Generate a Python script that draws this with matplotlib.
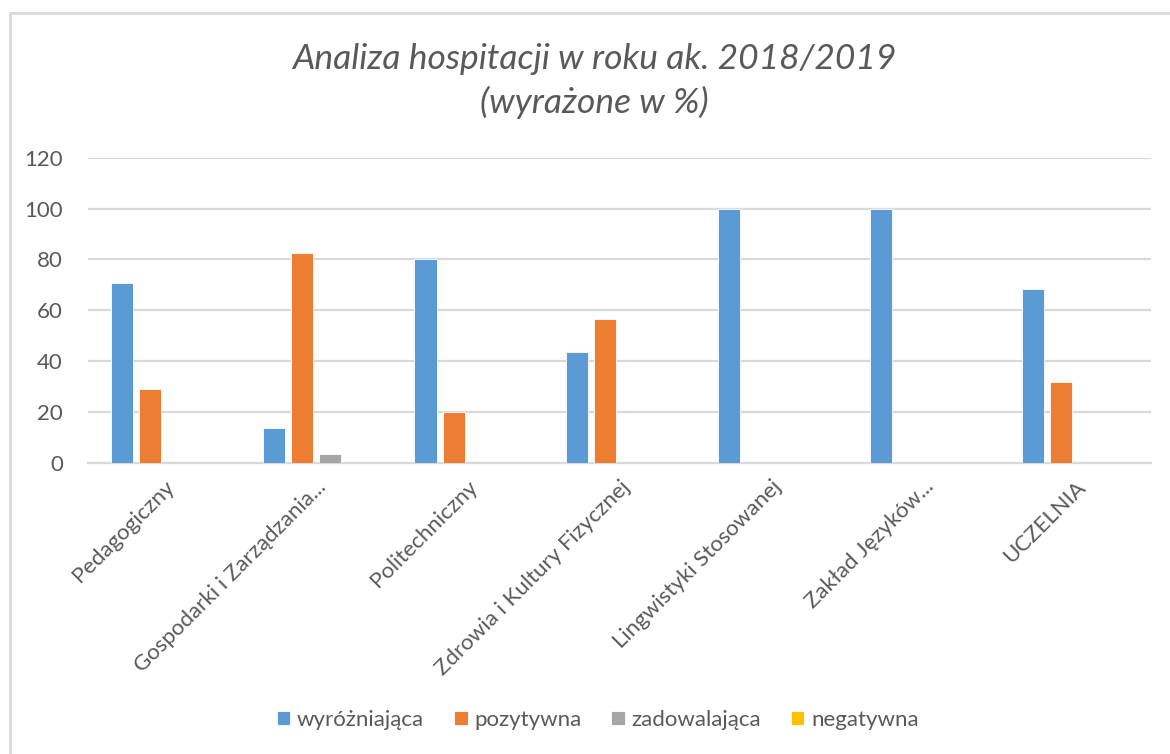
# Analiza hospitacji 2018/2019 - grouped bar chart

import numpy as np
import matplotlib.pyplot as plt
from matplotlib.patches import Rectangle

plt.rcParams['font.family'] = ['Lato', 'DejaVu Sans']

# Data
categories = ["Pedagogiczny", "Gospodarki i Zarządzania...", "Politechniczny",
              "Zdrowia i Kultury Fizycznej", "Lingwistyki Stosowanej",
              "Zakład Języków...", "UCZELNIA"]
wyrozniajaca = [70.8, 13.8, 80, 43.6, 100, 100, 68.2]
pozytywna = [29.2, 82.6, 20, 56.4, 0, 0, 31.8]
zadowalajaca = [0, 3.5, 0, 0, 0, 0, 0]
negatywna = [0, 0, 0, 0, 0, 0, 0]
series_names = ["wyróżniająca", "pozytywna", "zadowalająca", "negatywna"]
yticks = [0, 20, 40, 60, 80, 100, 120]

colors = ["#5b9bd5", "#ed7d31", "#a5a5a5", "#ffc000"]
text_col = "#595959"

fig = plt.figure(figsize=(11.70, 7.54), dpi=100)
ax = fig.add_axes([0.0752, 0.3863, 0.9086, 0.4045])

# outer chart frame (cut off at right/bottom in the original)
fig.patches.append(Rectangle((10 / 1170, -0.1), 1.2, (754 - 13) / 754 + 0.1,
                             transform=fig.transFigure, fill=False,
                             edgecolor="#d9d9d9", lw=2))

x = np.arange(len(categories))
width = 0.145
step = 0.185
all_series = [wyrozniajaca, pozytywna, zadowalajaca, negatywna]
for i, (vals, name, col) in enumerate(zip(all_series, series_names, colors)):
    ax.bar(x + (i - 1.5) * step, vals, width, color=col, label=name,
           edgecolor="white", linewidth=0.6, zorder=3)

ax.set_xlim(-0.5, len(categories) - 0.5)
ax.set_ylim(0, 120)
ax.set_yticks(yticks)
ax.set_xticks(x)
ax.set_xticklabels(categories, rotation=45, ha="right", va="top",
                   rotation_mode="anchor", fontsize=16, color=text_col)
ax.tick_params(axis="y", labelsize=16, labelcolor=text_col, length=0, pad=18)
ax.tick_params(axis="x", length=0, pad=10)

ax.grid(axis="y", color="#d9d9d9", lw=1.6, zorder=0)
for s in ["top", "right", "left"]:
    ax.spines[s].set_visible(False)
ax.spines["bottom"].set_color("#d9d9d9")
ax.spines["bottom"].set_linewidth(1.6)

fig.text(0.508, 0.892, "Analiza hospitacji w roku ak. 2018/2019\n(wyrażone w %)",
         ha="center", va="center", fontsize=25.5, style="italic", color=text_col,
         linespacing=1.4)

leg = fig.legend(loc="center", bbox_to_anchor=(0.511, 0.045), ncol=4,
                 frameon=False, fontsize=16, handlelength=0.6, handleheight=0.6,
                 handletextpad=0.3, columnspacing=1.35)
for t in leg.get_texts():
    t.set_color(text_col)

fig.savefig("out.png", dpi=100, facecolor="white")
